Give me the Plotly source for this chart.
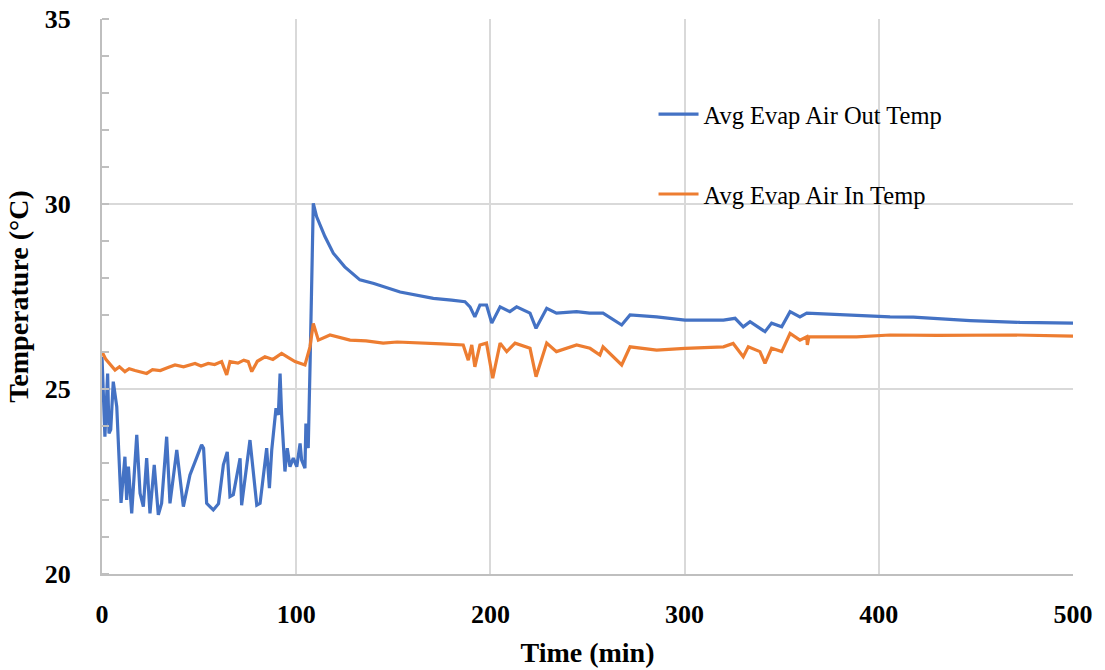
import plotly.graph_objects as go

# ---- data ----
out_time = [0, 1.5, 2.9, 3.6, 4.5, 5.8, 7.6, 9.8, 11.8, 12.7, 13.6, 15.3, 17.9, 19.6, 21.3, 23, 24.7,
            26.9, 29, 30.7, 33.3, 35, 38.5, 41.9, 45.3, 51.3, 52.3, 53.9, 57.3, 60, 62.5, 64.5, 65.9, 67.6,
            71.1, 71.9, 76.2, 79.7, 81.4, 84.8, 86.2, 87.4, 89.6, 90.8, 91.7, 92.5, 94.2, 95.4, 96.8,
            98.5, 100.3, 102, 102.8, 104.5, 105, 106.2, 107.2, 108.8, 110.5, 114.8, 119.1, 125, 132.8,
            140, 153.5, 160, 170.6, 180, 186.9, 189.5, 192, 194.6, 198, 200.7, 205, 210, 213.5, 220.4,
            223.5, 229, 234, 244.4, 251, 258, 267.6, 271.9, 285.6, 300.2, 320, 326, 330.2, 333.7, 341.4,
            344.8, 350, 354.3, 359.4, 362.9, 375, 388.6, 405.8, 417.8, 447, 472.7, 500]
out_temp = [25.87, 23.71, 25.42, 23.8, 23.9, 25.2, 24.52, 21.92, 23.17, 22.0, 22.9, 21.64, 23.76, 22.18,
            21.82, 23.13, 21.64, 22.95, 21.6, 21.91, 23.71, 21.91, 23.35, 21.82, 22.68, 23.49, 23.4, 21.91,
            21.73, 21.9, 22.95, 23.3, 22.09, 22.14, 23.13, 21.86, 23.62, 21.86, 21.91, 23.4, 22.32, 23.35,
            24.48, 24.3, 25.42, 24.3, 22.77, 23.4, 22.9, 23.13, 22.9, 23.53, 23.08, 22.86, 24.07, 23.4,
            25.8, 30.02, 29.66, 29.12, 28.67, 28.3, 27.95, 27.85, 27.62, 27.55, 27.45, 27.4, 27.36, 27.22,
            26.95, 27.27, 27.27, 26.78, 27.22, 27.09, 27.22, 27.05, 26.64, 27.18, 27.05, 27.09, 27.05,
            27.05, 26.73, 27.0, 26.95, 26.86, 26.86, 26.91, 26.68, 26.82, 26.55, 26.78, 26.68, 27.09,
            26.95, 27.05, 27.02, 27.0, 26.95, 26.94, 26.85, 26.8, 26.78]

in_time = [0, 2, 6.7, 9, 11.8, 14, 17, 20, 23, 26, 30, 34, 37.6, 42, 47.9, 51, 54.7, 58, 61.6, 64.2, 65.9,
           70, 73, 75.3, 77.1, 80, 83.9, 88, 92.5, 96, 99.4, 104.5, 107.1, 108.8, 111.4, 117.4, 127.7,
           136, 144.8, 152, 162, 175, 186, 188.6, 190.4, 192, 194.6, 198, 201.2, 205, 208.4, 212.7,
           220.4, 223.5, 229, 234, 244.4, 251.3, 256.4, 258, 267.6, 271.9, 285.6, 300.2, 320, 325,
           330.2, 332.8, 338.8, 341.4, 344.8, 350, 354.3, 359.4, 362.9, 363.2, 364, 388.6, 405.8, 430,
           470, 500]
in_temp = [26.01, 25.8, 25.51, 25.6, 25.47, 25.55, 25.5, 25.45, 25.42, 25.52, 25.5, 25.58, 25.65, 25.6,
           25.69, 25.62, 25.69, 25.66, 25.74, 25.38, 25.74, 25.7, 25.78, 25.74, 25.47, 25.75, 25.87,
           25.8, 25.96, 25.85, 25.74, 25.65, 26.14, 26.77, 26.32, 26.46, 26.32, 26.3, 26.24, 26.27,
           26.24, 26.22, 26.19, 25.78, 26.19, 25.6, 26.19, 26.24, 25.29, 26.24, 26.01, 26.24, 26.1,
           25.33, 26.24, 26.01, 26.19, 26.1, 25.92, 26.14, 25.65, 26.14, 26.05, 26.1, 26.14, 26.23,
           25.87, 26.14, 26.01, 25.69, 26.1, 26.01, 26.5, 26.32, 26.41, 26.19, 26.41, 26.41, 26.46,
           26.45, 26.46, 26.43]

x_ticks = [0, 100, 200, 300, 400, 500]
y_ticks = [20, 25, 30, 35]

serif = "Liberation Serif, Times New Roman, serif"
grid = "#d9d9d9"

fig = go.Figure()
fig.add_trace(go.Scatter(x=out_time, y=out_temp, mode="lines", name="Avg Evap Air Out Temp",
                         line=dict(color="#4472C4", width=3.2), legendgroup="a"))
fig.add_trace(go.Scatter(x=in_time, y=in_temp, mode="lines", name="Avg Evap Air In Temp",
                         line=dict(color="#ED7D31", width=3.2), legendgroup="b"))

fig.update_layout(
    width=1105, height=670,
    margin=dict(l=102, r=32, t=19, b=96, autoexpand=False),
    paper_bgcolor="white", plot_bgcolor="white",
    font=dict(family=serif, color="#000000"),
    showlegend=True,
    legend=dict(x=0.568, y=0.869, xanchor="left", yanchor="top",
                font=dict(family=serif, size=24.5, color="#000000"),
                bgcolor="rgba(0,0,0,0)", tracegroupgap=45, itemwidth=40),
    xaxis=dict(range=[0, 500], tickvals=x_ticks, ticktext=[str(v) for v in x_ticks],
               automargin=False,
               showgrid=True, gridcolor=grid, gridwidth=1.5,
               showline=True, linecolor="#bfbfbf", linewidth=2, zeroline=False,
               ticks="", tickfont=dict(family=serif, size=26, color="#000000", weight="bold"),
               ticklabelstandoff=16,
               title=dict(text="<b>Time (min)</b>", font=dict(family=serif, size=28, color="#000000"),
                          standoff=14)),
    yaxis=dict(range=[20, 35], tickvals=y_ticks, ticktext=[str(v) for v in y_ticks],
               automargin=False,
               showgrid=True, gridcolor=grid, gridwidth=1.5,
               showline=True, linecolor="#bfbfbf", linewidth=2, zeroline=False,
               ticks="", tickfont=dict(family=serif, size=26, color="#000000", weight="bold"),
               ticklabelstandoff=24,
               minor=dict(dtick=1, ticks="inside", ticklen=7, tickcolor="#bfbfbf", tickwidth=1.5,
                          showgrid=False),
               title=dict(text="<b>Temperature (°C)</b>", font=dict(family=serif, size=28, color="#000000"),
                          standoff=8)),
)

fig.write_html("out.html")
